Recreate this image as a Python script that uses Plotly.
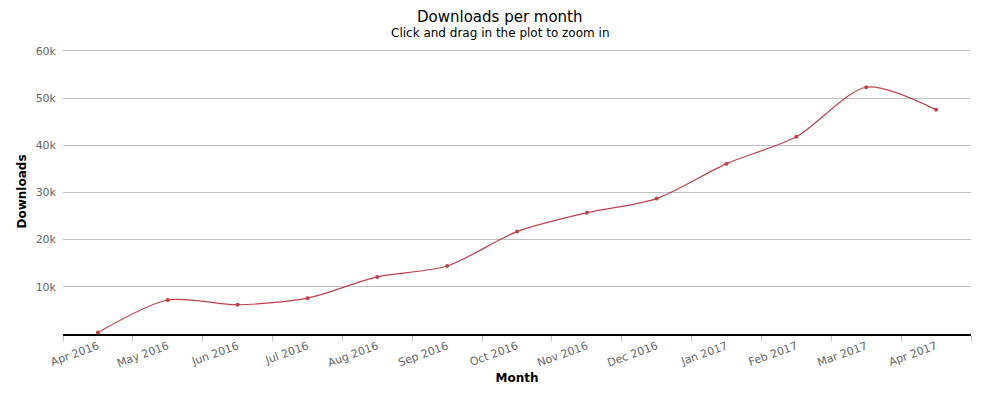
import plotly.graph_objects as go

months = ["Apr 2016", "May 2016", "Jun 2016", "Jul 2016", "Aug 2016", "Sep 2016",
          "Oct 2016", "Nov 2016", "Dec 2016", "Jan 2017", "Feb 2017", "Mar 2017", "Apr 2017"]
downloads = [300, 7200, 6200, 7600, 12100, 14400, 21700, 25700, 28700, 36100, 41800, 52300, 47500]
y_tickvals = [10000, 20000, 30000, 40000, 50000, 60000]
y_ticktext = ["10k", "20k", "30k", "40k", "50k", "60k"]

font = "DejaVu Sans"
color = "#c0404c"

# page body has an 8px default margin; figure sized to compensate
W, H = 992, 390
ML, MR, MT, MB = 55, 29, 41, 64

fig = go.Figure()
fig.add_trace(go.Scatter(
    x=months, y=downloads, mode="lines+markers",
    line=dict(color=color, width=1.2, shape="spline", smoothing=0.8),
    marker=dict(color=color, size=4),
    hoverinfo="x+y", showlegend=False,
))

plot_h = H - MT - MB
plot_w = W - ML - MR
title_x = (492 - ML) / plot_w
fig.update_layout(
    width=W, height=H,
    margin=dict(l=ML, r=MR, t=MT, b=MB, autoexpand=False),
    paper_bgcolor="white", plot_bgcolor="white",
    font=dict(family=font, color="#333333"),
    annotations=[
        dict(text="Downloads per month", x=title_x, y=1 + (MT - 9) / plot_h,
             xref="paper", yref="paper", yanchor="middle",
             showarrow=False, font=dict(size=15, color="#000000", family=font)),
        dict(text="Click and drag in the plot to zoom in", x=title_x, y=1 + (MT - 25) / plot_h,
             xref="paper", yref="paper", yanchor="middle", showarrow=False,
             font=dict(size=12, color="#000000", family=font)),
    ],
)

fig.update_xaxes(
    type="category", range=[-0.5, 12.5], tickson="boundaries",
    ticks="outside", ticklen=5, tickcolor="#c0c0c0",
    showline=True, linecolor="#000000", linewidth=1.5,
    showgrid=False, tickangle=-20,
    tickfont=dict(size=11, color="#666666", family=font),
    title=dict(text="<b>Month</b>", font=dict(size=12, color="#000000", family=font), standoff=5),
)
fig.update_yaxes(
    range=[0, 60400], tickvals=y_tickvals, ticktext=y_ticktext,
    showgrid=True, gridcolor="#c0c0c0", gridwidth=1,
    zeroline=False, showline=False,
    tickfont=dict(size=11, color="#666666", family=font),
    ticklabelstandoff=6,
    title=dict(text="<b>Downloads</b>", font=dict(size=12, color="#000000", family=font), standoff=6),
)

fig.write_html("out.html")
